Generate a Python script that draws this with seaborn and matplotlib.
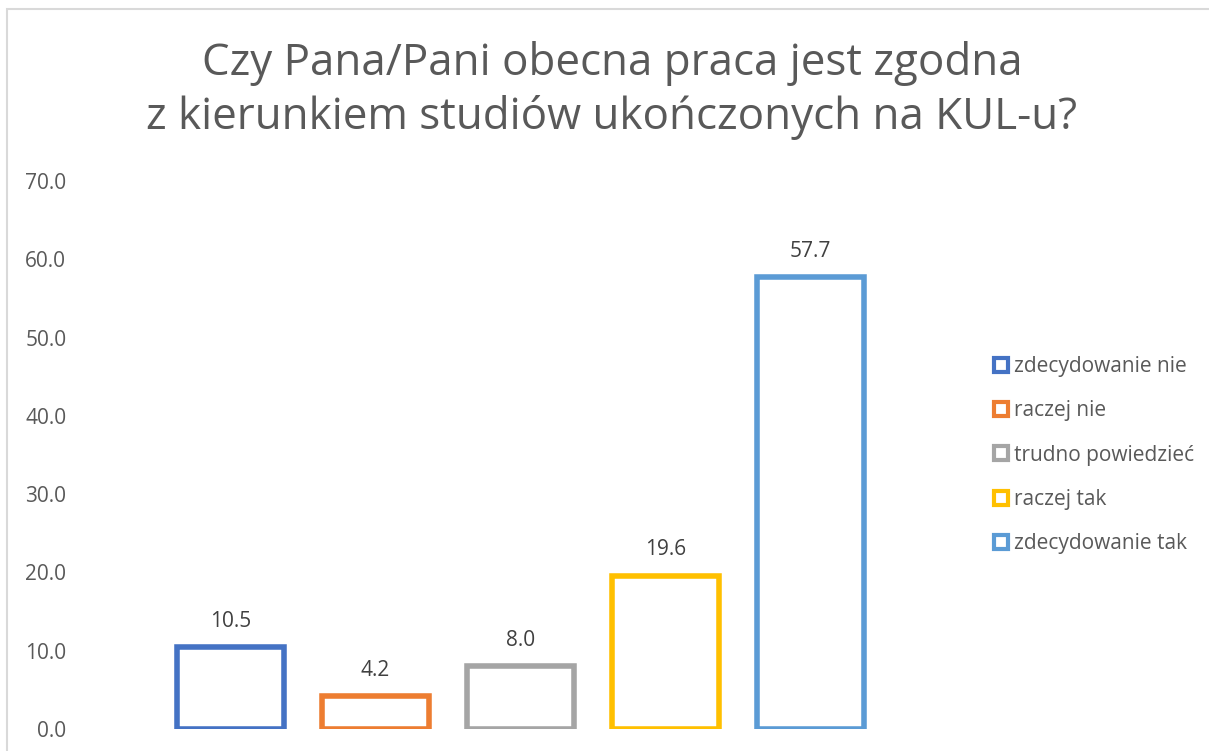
import matplotlib
matplotlib.use("Agg")
import matplotlib.pyplot as plt
from matplotlib.lines import Line2D
from matplotlib.patches import Rectangle
import seaborn as sns

# dane z wykresu
categories = ["zdecydowanie nie", "raczej nie", "trudno powiedzieć", "raczej tak", "zdecydowanie tak"]
values = [10.5, 4.2, 8.0, 19.6, 57.7]
colors = ["#4472C4", "#ED7D31", "#A5A5A5", "#FFC000", "#5B9BD5"]
y_ticks = [0, 10, 20, 30, 40, 50, 60, 70]
title = "Czy Pana/Pani obecna praca jest zgodna\nz kierunkiem studiów ukończonych na KUL-u?"

sns.set_theme(style="white")
plt.rcParams["font.family"] = ["Open Sans", "DejaVu Sans"]

W, H = 1209, 751
fig = plt.figure(figsize=(W / 100, H / 100), dpi=100)
ax = fig.add_axes([158 / W, (H - 729) / H, 725 / W, 548 / H])

sns.barplot(x=categories, y=values, hue=categories, palette=colors,
            fill=False, width=0.74, linewidth=4, legend=False, ax=ax)

ax.set_ylim(0, 70)
ax.set_xlim(-0.5, 4.5)
ax.set_yticks(y_ticks)
ax.set_yticklabels([f"{t:.1f}" for t in y_ticks], fontsize=15, color="#595959")
ax.tick_params(axis="y", length=0, pad=66)
ax.set_xticks([])
ax.set_xlabel("")
ax.set_ylabel("")
for s in ax.spines.values():
    s.set_visible(False)
ax.patch.set_alpha(0)

# etykiety danych
for i, v in enumerate(values):
    ax.annotate(f"{v:.1f}", (i, v), xytext=(0, 11), textcoords="offset points",
                ha="center", va="bottom", fontsize=15, color="#404040")

# legenda
handles = [Line2D([], [], linestyle="none", marker="s", markersize=10,
                  markerfacecolor="white", markeredgecolor=c, markeredgewidth=3)
           for c in colors]
fig.legend(handles, categories, loc="center left", bbox_to_anchor=(984 / W, 1 - 455 / H),
           frameon=False, fontsize=15, labelcolor="#595959", handlelength=0.8,
           handletextpad=0.25, labelspacing=1.12, borderaxespad=0)

fig.text(612 / W, 1 - 41 / H, title, ha="center", va="top", fontsize=31.6,
         color="#595959", linespacing=1.25)

# ramka wykresu
fig.patches.append(Rectangle((7 / W, -0.1), 1.2, 1 - 9 / H + 0.1, transform=fig.transFigure,
                             fill=False, edgecolor="#D9D9D9", linewidth=1.5))

fig.savefig("out.png", dpi=100)
